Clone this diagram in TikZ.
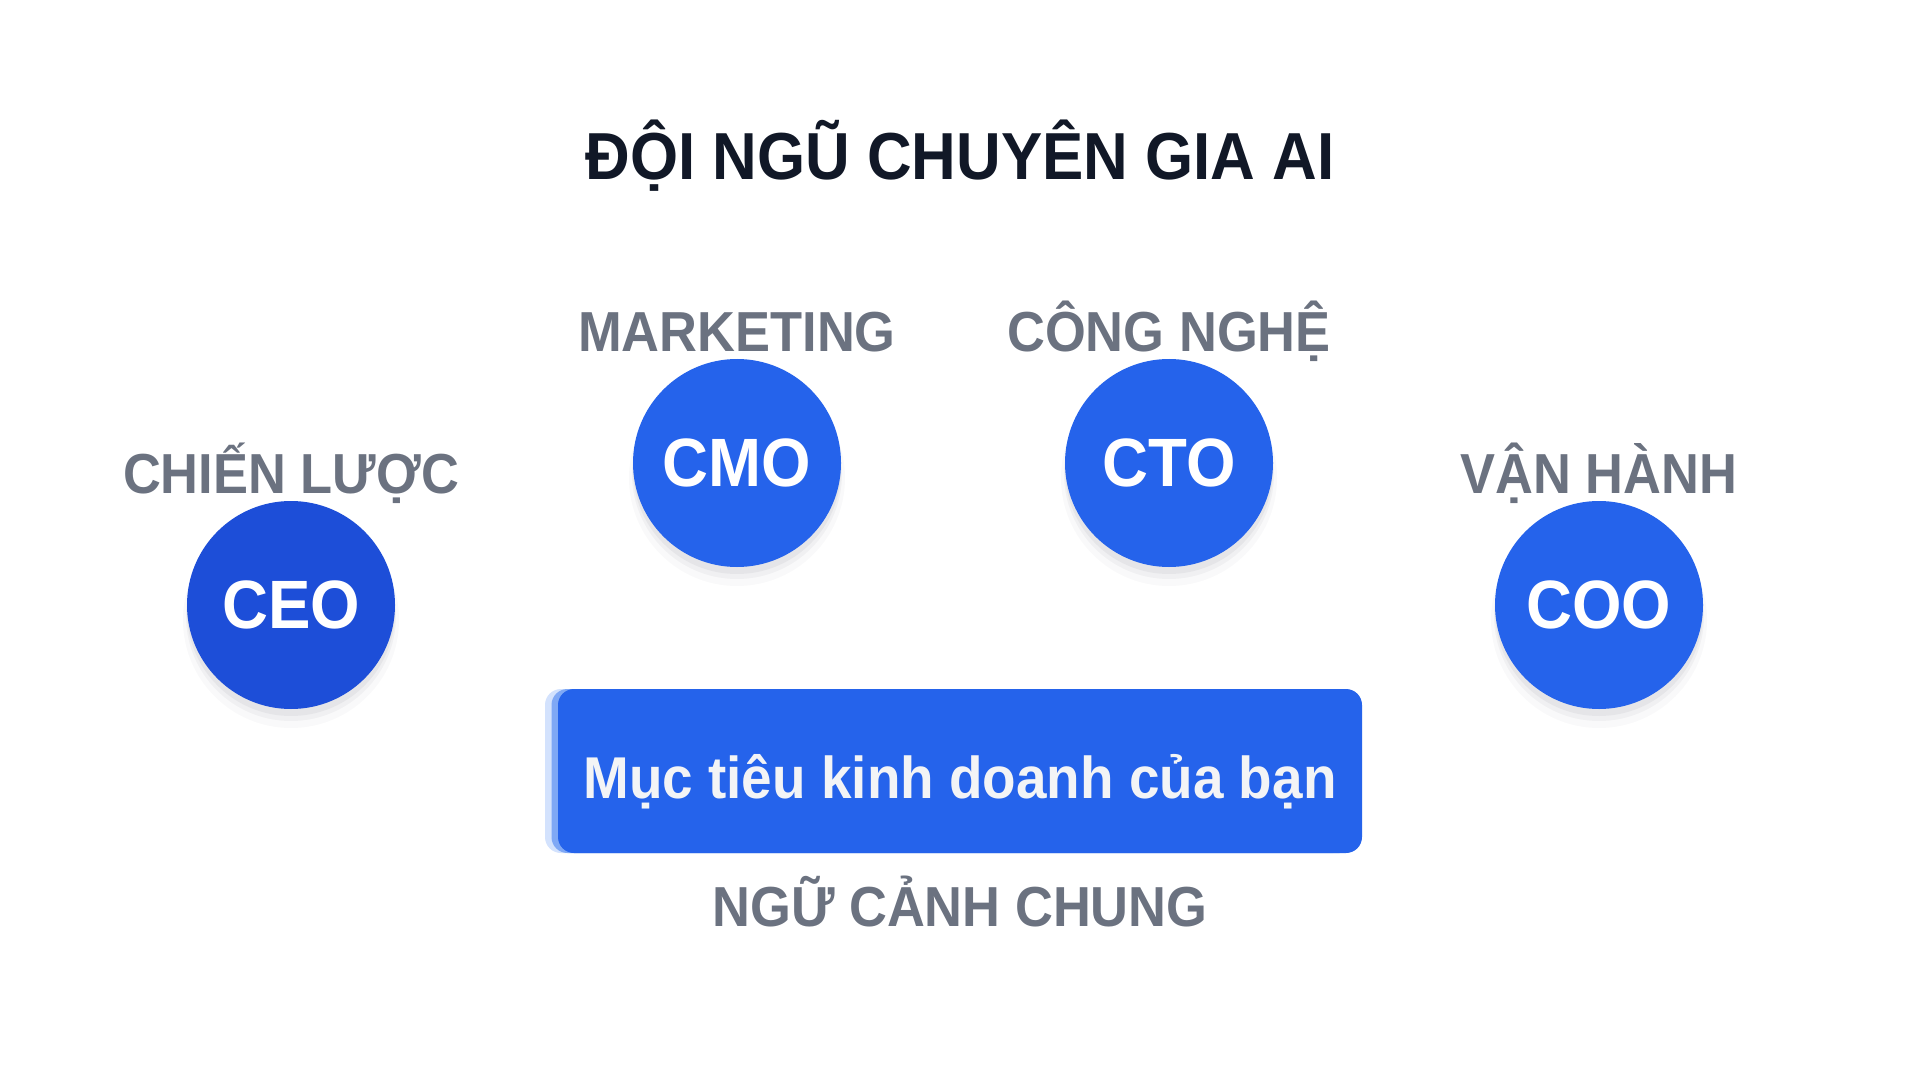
\documentclass[tikz,border=0pt]{standalone}
\usepackage{fontspec}
\setmainfont{Liberation Sans}[FakeStretch=0.93]
\definecolor{titlec}{HTML}{111827}
\definecolor{labelc}{HTML}{6B7280}
\definecolor{bluec}{HTML}{2563EB}
\definecolor{ceoc}{HTML}{1D4ED8}
\definecolor{palec}{HTML}{D3E2FD}
\definecolor{midc}{HTML}{7FA8F5}
\definecolor{boxtext}{HTML}{F3F4F6}
\definecolor{shadc}{HTML}{1F2937}
\tikzset{
  titlestyle/.style={anchor=base, inner sep=0pt, text=titlec, font=\bfseries\fontsize{33.25}{40}\selectfont},
  lbl/.style={anchor=base, inner sep=0pt, text=labelc, font=\bfseries\fontsize{28.2}{34}\selectfont},
  role/.style={circle, minimum size=104pt, inner sep=0pt, fill=bluec, text=white, font=\bfseries\fontsize{34.2}{40}\selectfont},
  goalbox/.style={rectangle, rounded corners=8pt, minimum width=402pt, minimum height=82pt, inner sep=0pt, fill=bluec},
  goaltext/.style={anchor=base, inner sep=0pt, text=boxtext, font=\bfseries\fontsize{29.5}{35}\selectfont},
  layerbox/.style={rectangle, rounded corners=8pt, minimum width=402pt, minimum height=82pt, inner sep=0pt},
}
\begin{document}
\begin{tikzpicture}[x=0.5pt,y=-0.5pt]
\useasboundingbox[fill=white] (0,0) rectangle (1920,1080);

% title
\node[titlestyle] (title) at (960,180) {ĐỘI NGŨ CHUYÊN GIA AI};

% circle shadows
\foreach \cx/\cy in {291/605, 737/463, 1169/463, 1599/605}{
  \fill[shadc, opacity=0.025] (\cx,\cy+15) circle[radius=54pt];
  \fill[shadc, opacity=0.04] (\cx,\cy+11) circle[radius=52.5pt];
  \fill[shadc, opacity=0.05] (\cx,\cy+7) circle[radius=52pt];
}

% role circles
\node[role, fill=ceoc] (ceo) at (291,605) {CEO};
\node[role] (cmo) at (737,463) {CMO};
\node[role] (cto) at (1169,463) {CTO};
\node[role] (coo) at (1599,605) {COO};

% labels
\node[lbl] (lceo) at (291,493) {CHIẾN LƯỢC};
\node[lbl] (lcmo) at (737,351) {MARKETING};
\node[lbl] (lcto) at (1169,351) {CÔNG NGHỆ};
\node[lbl] (lcoo) at (1599,493) {VẬN HÀNH};

% goal box with stacked layers
\node[layerbox, fill=palec] (layer1) at (947,771) {};
\node[layerbox, fill=midc] (layer2) at (953.5,771) {};
\node[goalbox] (goal) at (960,771) {};
\node[goaltext] (goaltxt) at (960,798) {Mục tiêu kinh doanh của bạn};

\node[lbl] (ctx) at (960,926) {NGỮ CẢNH CHUNG};
\end{tikzpicture}
\end{document}
